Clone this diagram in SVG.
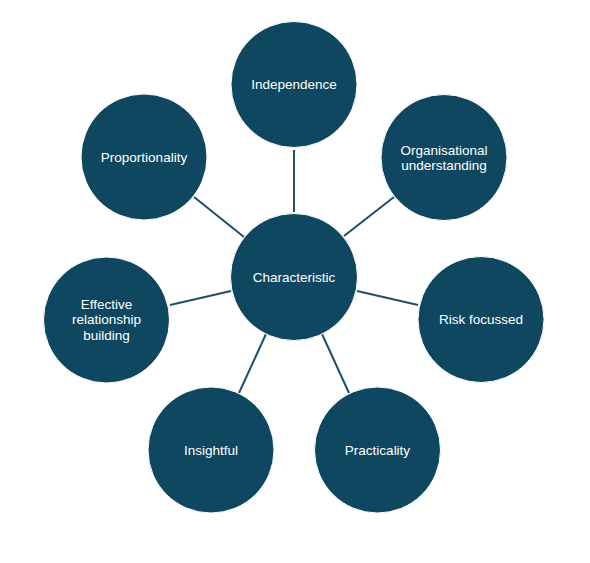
<svg xmlns="http://www.w3.org/2000/svg" width="590" height="563" viewBox="0 0 590 563">
<style>
.n{fill:#0f4761;stroke:#ffffff;stroke-width:1}
.t{fill:#ffffff;font-family:"Liberation Sans",Arial,sans-serif;font-size:13.5px;text-anchor:middle;dominant-baseline:central}
.c{stroke:#1d4f6b;stroke-width:2;fill:none}
</style>
<rect width="590" height="563" fill="#ffffff"/>
<g id="connectors">
<line class="c" x1="294" y1="212" x2="294" y2="150"/>
<line class="c" x1="344" y1="236" x2="394" y2="197"/>
<line class="c" x1="357" y1="291" x2="418" y2="305"/>
<line class="c" x1="322" y1="334" x2="349" y2="393"/>
<line class="c" x1="266" y1="334" x2="239" y2="393"/>
<line class="c" x1="231" y1="291" x2="170" y2="305"/>
<line class="c" x1="244" y1="237" x2="194" y2="197"/>
</g>
<g id="characteristic"><circle class="n" cx="294" cy="277" r="63.5"/><text class="t" x="294" y="277">Characteristic</text></g>
<g id="independence"><circle class="n" cx="294" cy="84.5" r="63"/><text class="t" x="294" y="84.5">Independence</text></g>
<g id="organisational"><circle class="n" cx="444" cy="157.5" r="63"/><text class="t" x="444" y="150">Organisational</text><text class="t" x="444" y="165.5">understanding</text></g>
<g id="risk"><circle class="n" cx="481" cy="319.5" r="63"/><text class="t" x="481" y="319.5">Risk focussed</text></g>
<g id="practicality"><circle class="n" cx="377.5" cy="450" r="63"/><text class="t" x="377.5" y="450">Practicality</text></g>
<g id="insightful"><circle class="n" cx="211" cy="450" r="63"/><text class="t" x="211" y="450">Insightful</text></g>
<g id="effective"><circle class="n" cx="106.5" cy="320" r="63"/><text class="t" x="106.5" y="304">Effective</text><text class="t" x="106.5" y="319.5">relationship</text><text class="t" x="106.5" y="335">building</text></g>
<g id="proportionality"><circle class="n" cx="144" cy="157" r="63"/><text class="t" x="144" y="157">Proportionality</text></g>
</svg>
